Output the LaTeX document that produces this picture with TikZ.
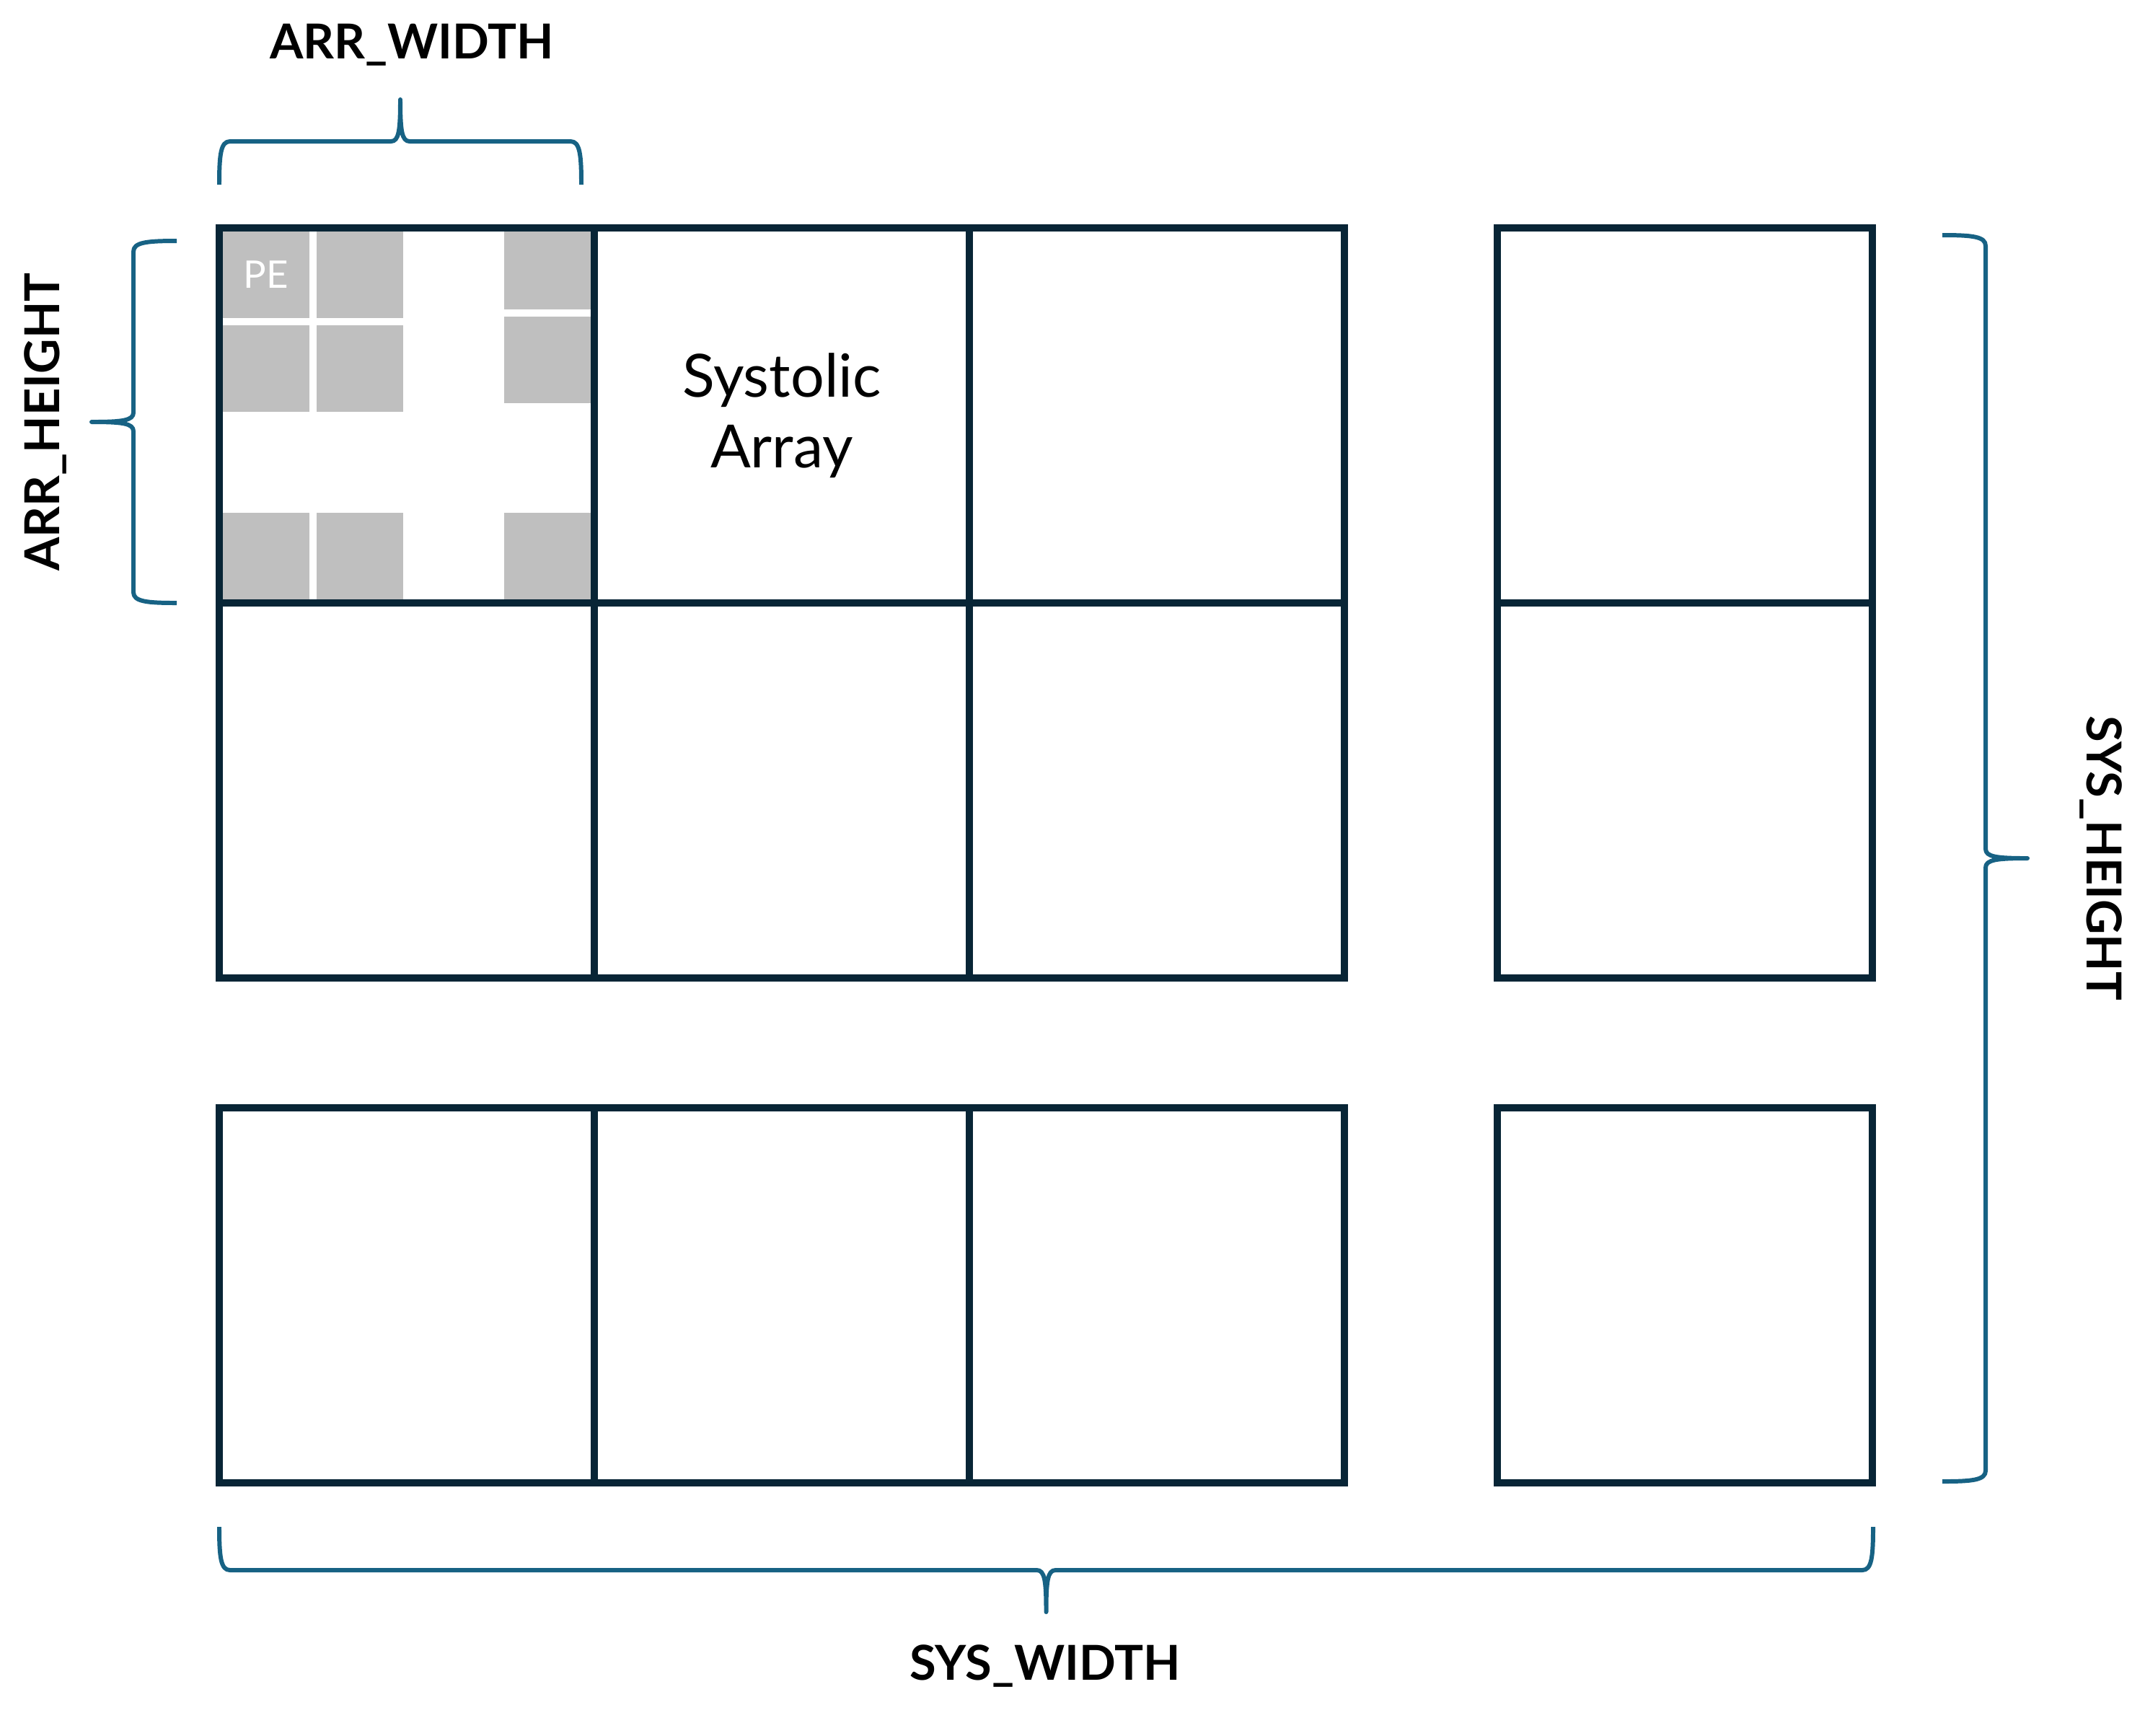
\documentclass[tikz,border=0pt]{standalone}
\usepackage{fontspec}
\setmainfont{Lato}
\usepackage{xcolor}
\usetikzlibrary{positioning}

\definecolor{framecol}{RGB}{8,37,54}
\definecolor{bracecol}{RGB}{23,98,132}
\definecolor{pegray}{RGB}{191,191,191}

% Office-like curly brace, drawn from (0,0) to (#1,0), cusp towards +y
\tikzset{
  pics/curly/.style={code={
    \draw[bracecol, line width=1.7pt, line join=round]
      (0,0) .. controls (0,0.42) and (0.02,0.6) .. (0.15,0.6)
      -- ({#1/2-0.13},0.6) .. controls ({#1/2-0.02},0.6) and ({#1/2},0.75) .. ({#1/2},1.18)
      .. controls ({#1/2},0.75) and ({#1/2+0.02},0.6) .. ({#1/2+0.13},0.6)
      -- ({#1-0.15},0.6) .. controls ({#1-0.02},0.6) and (#1,0.42) .. (#1,0);
  }}
}

\begin{document}
\begin{tikzpicture}
    % Styles
    \tikzstyle{cell} = [rectangle, draw=framecol, line width=2.85pt, minimum width=5.2cm, minimum height=5.2cm, inner sep=0pt, outer sep=0pt]
    \tikzstyle{pe} = [rectangle, fill=pegray, minimum width=1.2cm, minimum height=1.2cm, inner sep=0pt, outer sep=0pt]
    \tikzstyle{dim} = [font=\bfseries\fontsize{19}{23}\selectfont]

    \useasboundingbox (0,0) rectangle (29.74,-24.06);

    % PE grid inside the first array
    \node[pe, anchor=north west, text=white, font=\fontsize{15}{17}\selectfont] (pe11) at (3.09,-3.21) {PE};
    \node[pe, right=0.1cm of pe11] (pe12) {};
    \node[pe, below=0.1cm of pe11] (pe21) {};
    \node[pe, below=0.1cm of pe12] (pe22) {};
    \node[pe, anchor=north east, minimum height=1.08cm] (pe14) at (8.19,-3.21) {};
    \node[pe, anchor=north, below=0.1cm of pe14] (pe24) {};
    \node[pe, anchor=south west] (pen1) at (3.09,-8.31) {};
    \node[pe, right=0.1cm of pen1] (pen2) {};
    \node[pe, anchor=south east] (pen4) at (8.19,-8.31) {};

    % Upper block
    \node[cell] (c11) at (5.64,-5.76) {};
    \node[cell, right=0pt of c11, align=center, font=\fontsize{23.5}{28}\selectfont] (c12) {Systolic\\Array};
    \node[cell, right=0pt of c12] (c13) {};
    \node[cell, right=2.12cm of c13] (c14) {};
    \node[cell, below=0pt of c11] (c21) {};
    \node[cell, right=0pt of c21] (c22) {};
    \node[cell, right=0pt of c22] (c23) {};
    \node[cell, right=2.12cm of c23] (c24) {};

    % Lower block
    \node[cell, below=1.8cm of c21] (cn1) {};
    \node[cell, right=0pt of cn1] (cn2) {};
    \node[cell, right=0pt of cn2] (cn3) {};
    \node[cell, right=2.12cm of cn3] (cn4) {};

    % Braces
    \pic at (3.04,-2.56) {curly=5.02};
    \pic[rotate=90] at (2.45,-8.36) {curly=5.02};
    \pic[rotate=-90] at (26.93,-3.26) {curly=17.28};
    \pic[yscale=-1] at (3.04,-21.17) {curly=22.93};

    % Labels
    \node[dim] (arr_width) at (5.71,-0.62) {ARR\_WIDTH};
    \node[dim, rotate=90] (arr_height) at (0.63,-5.85) {ARR\_HEIGHT};
    \node[dim, rotate=-90] (sys_height) at (29.13,-11.90) {SYS\_HEIGHT};
    \node[dim] (sys_width) at (14.49,-23.10) {SYS\_WIDTH};
\end{tikzpicture}
\end{document}
